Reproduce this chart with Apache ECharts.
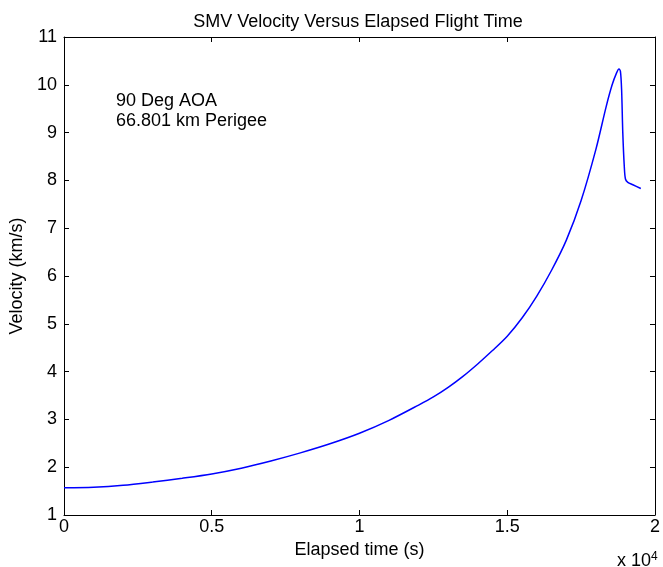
<!DOCTYPE html>
<html>
<head>
<meta charset="utf-8">
<script src="https://cdn.jsdelivr.net/npm/echarts@6/dist/echarts.min.js"></script>
<style>
html,body{margin:0;padding:0;background:#fff;}
#chart{width:663px;height:567px;}
</style>
</head>
<body>
<div id="chart"></div>
<script>
// Elapsed time in units of 1e4 s
const timeVals = [0, 0.1, 0.2, 0.3, 0.4, 0.5, 0.6, 0.7, 0.8, 0.9, 1.0, 1.1, 1.2, 1.25, 1.3, 1.35, 1.4, 1.45, 1.5, 1.55, 1.6, 1.65, 1.7, 1.75, 1.8, 1.835, 1.855, 1.87, 1.878, 1.883, 1.887, 1.891, 1.896, 1.9, 1.908, 1.925, 1.952];
const velocityVals = [1.57, 1.58, 1.62, 1.69, 1.77, 1.86, 1.98, 2.13, 2.30, 2.49, 2.71, 2.98, 3.30, 3.47, 3.67, 3.90, 4.16, 4.44, 4.74, 5.12, 5.58, 6.12, 6.75, 7.58, 8.65, 9.55, 10.0, 10.25, 10.33, 10.28, 9.9, 9.0, 8.3, 8.03, 7.96, 7.91, 7.83];
const xTicks = [0, 0.5, 1, 1.5, 2];
const yTicks = [1, 2, 3, 4, 5, 6, 7, 8, 9, 10, 11];
const titleText = 'SMV Velocity Versus Elapsed Flight Time';
const xLabel = 'Elapsed time (s)';
const yLabel = 'Velocity (km/s)';
const annotationLines = ['90 Deg AOA', '66.801 km Perigee'];

const FONT = 'Liberation Sans, Arial, Helvetica, sans-serif';
const FS = 18;
const seriesData = timeVals.map((t, i) => [t, velocityVals[i]]);

const chart = echarts.init(document.getElementById('chart'), null, {renderer: 'canvas'});
const axisLineStyle = {color: '#000', width: 1};
chart.setOption({
  backgroundColor: '#fff',
  animation: false,
  title: {
    text: titleText,
    left: 353, top: 8, textAlign: 'center',
    textStyle: {fontFamily: FONT, fontSize: FS, fontWeight: 'normal', color: '#000'}
  },
  grid: {left: 64, right: 4, top: 37, bottom: 52, containLabel: false},
  xAxis: [{
    type: 'value', min: 0, max: 2, interval: 0.5, position: 'bottom',
    name: xLabel, nameLocation: 'middle', nameGap: 24,
    nameTextStyle: {fontFamily: FONT, fontSize: FS, color: '#000'},
    axisLine: {show: true, onZero: false, lineStyle: axisLineStyle},
    axisTick: {show: true, inside: true, length: 5, lineStyle: axisLineStyle},
    axisLabel: {fontFamily: FONT, fontSize: FS, color: '#000', margin: 3,
      formatter: v => xTicks.includes(v) ? String(v) : ''},
    splitLine: {show: false}
  }, {
    type: 'value', min: 0, max: 2, interval: 0.5, position: 'top',
    axisLine: {show: true, onZero: false, lineStyle: axisLineStyle},
    axisTick: {show: true, inside: true, length: 5, lineStyle: axisLineStyle},
    axisLabel: {show: false}, splitLine: {show: false}
  }],
  yAxis: [{
    type: 'value', min: 1, max: 11, interval: 1, position: 'left',
    name: yLabel, nameLocation: 'middle', nameGap: 33,
    nameTextStyle: {fontFamily: FONT, fontSize: FS, color: '#000'},
    axisLine: {show: true, onZero: false, lineStyle: axisLineStyle},
    axisTick: {show: true, inside: true, length: 5, lineStyle: axisLineStyle},
    axisLabel: {fontFamily: FONT, fontSize: FS, color: '#000', margin: 7,
      formatter: v => yTicks.includes(v) ? String(v) : ''},
    splitLine: {show: false}
  }, {
    type: 'value', min: 1, max: 11, interval: 1, position: 'right',
    axisLine: {show: true, onZero: false, lineStyle: axisLineStyle},
    axisTick: {show: true, inside: true, length: 5, lineStyle: axisLineStyle},
    axisLabel: {show: false}, splitLine: {show: false}
  }],
  graphic: [
    {type: 'text', left: 116, top: 91, style: {text: annotationLines.join('\n'), fontFamily: FONT, fontSize: FS, lineHeight: 20, fill: '#000'}},
    {type: 'text', x: 617, y: 570, style: {text: 'x 10', fontFamily: FONT, fontSize: FS, fill: '#000', verticalAlign: 'bottom'}},
    {type: 'text', x: 651, y: 551, style: {text: '4', fontFamily: FONT, fontSize: 12, fill: '#000', verticalAlign: 'top'}}
  ],
  series: [{
    type: 'line', xAxisIndex: 0, yAxisIndex: 0,
    data: seriesData, showSymbol: false, smooth: 0.3,
    lineStyle: {color: '#0000ff', width: 1.5}
  }]
});
</script>
</body>
</html>
